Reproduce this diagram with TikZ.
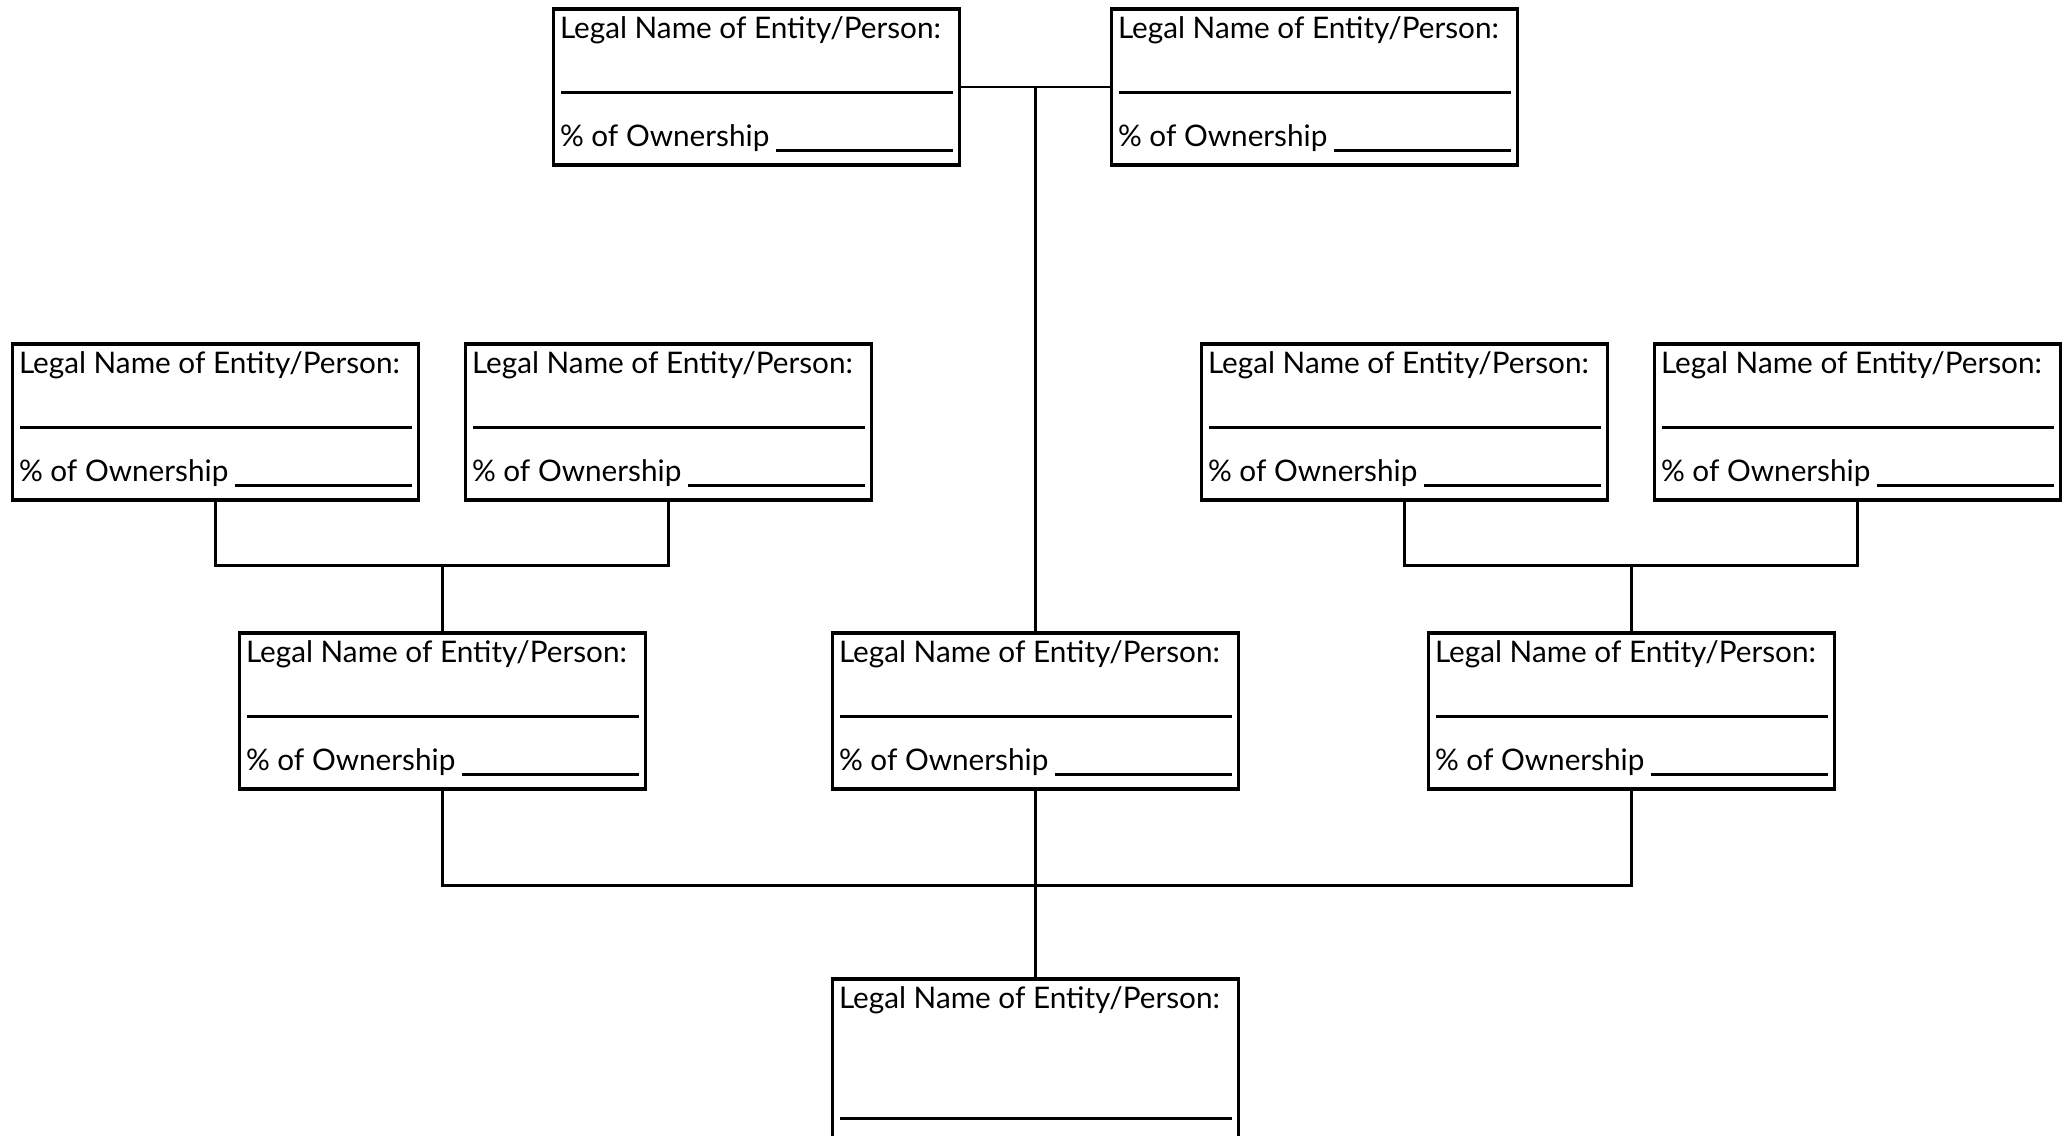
\documentclass[tikz,border=0pt]{standalone}
\usepackage{fontspec}
\setmainfont{Lato}
\usetikzlibrary{calc}

% one owner box: name, top left x, top left y, height (pixels)
\newcommand\ownerbox[4]{%
  \node[entity, minimum height=#4*0.01cm] (#1) at (#2+202.5,#3+#4/2) {};
  \node[boxtext] (#1-name) at ($(#1.north west)+(7,31)$) {Legal Name of Entity/Person:};
}
\newcommand\ownerpct[1]{%
  \draw[blank] ($(#1.north west)+(9,85)$) -- ($(#1.north east)+(-8,85)$);
  \node[boxtext] (#1-pct) at ($(#1.north west)+(7,139)$) {\% of Ownership};
  \draw[blank] ($(#1.north west)+(224,143)$) -- ($(#1.north east)+(-8,143)$);
}

\begin{document}
\begin{tikzpicture}[
    x=0.01cm, y=-0.01cm,
    entity/.style={draw, line width=0.9pt, minimum width=4.05cm, inner sep=0pt},
    boxtext/.style={anchor=base west, inner sep=0pt, font=\fontsize{8.45}{10}\selectfont},
    blank/.style={line width=0.8pt},
    link/.style={line width=0.8pt},
  ]
  \clip (0,0) rectangle (2069,1135);
  \fill[white] (0,0) rectangle (2069,1135);

  % top owners
  \ownerbox{t1}{554}{9}{156}    \ownerpct{t1}
  \ownerbox{t2}{1112}{9}{156}   \ownerpct{t2}
  % second row
  \ownerbox{a1}{13}{344}{156}   \ownerpct{a1}
  \ownerbox{a2}{466}{344}{156}  \ownerpct{a2}
  \ownerbox{c1}{1202}{344}{156} \ownerpct{c1}
  \ownerbox{c2}{1655}{344}{156} \ownerpct{c2}
  % third row
  \ownerbox{m1}{240}{633}{156}  \ownerpct{m1}
  \ownerbox{m2}{833}{633}{156}  \ownerpct{m2}
  \ownerbox{m3}{1429}{633}{156} \ownerpct{m3}
  % applicant
  \ownerbox{b}{833}{979}{260}
  \draw[blank] ($(b.north west)+(9,141)$) -- ($(b.north east)+(-8,141)$);

  % joins
  \coordinate (jl) at ($(m1.north)+(0,-66)$);
  \coordinate (jr) at ($(m3.north)+(0,-66)$);
  \coordinate (jb) at ($(b.north)+(0,-92)$);

  \draw[link] (t1.east) -- (t2.west);
  \draw[link] (m2.north) -- (m2.north |- t1.east);
  \draw[link] (a1.south) |- (jl) -| (a2.south);
  \draw[link] (jl) -- (m1.north);
  \draw[link] (c1.south) |- (jr) -| (c2.south);
  \draw[link] (jr) -- (m3.north);
  \draw[link] (m1.south) |- (jb) -| (m3.south);
  \draw[link] (m2.south) -- (b.north);
\end{tikzpicture}
\end{document}
